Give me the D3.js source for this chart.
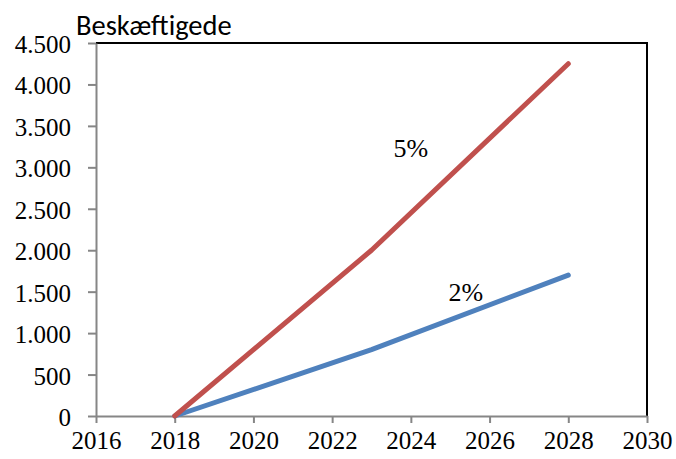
<!DOCTYPE html>
<html>
<head>
<meta charset="utf-8">
<script src="https://cdn.jsdelivr.net/npm/d3@7"></script>
<style>
  html, body { margin: 0; padding: 0; background: #fff; }
  svg { display: block; }
  #chart .serif { font-family: "Liberation Serif", "Times New Roman", serif; }
  #chart .sans { font-family: Carlito, Calibri, sans-serif; }
</style>
</head>
<body>
<svg id="chart" width="676" height="459">
  <g class="serif" id="plot"></g>
  <text class="sans" id="title"></text>
</svg>
<script>
// Employment growth scenarios (number employed)
const years = [2018, 2023, 2028];
const scenario5 = [0, 2000, 4250];
const scenario2 = [0, 800, 1700];
const seriesNames = ["5%", "2%"];
const seriesColors = ["#C0504D", "#4F81BD"];
const labelPos = [[2024.0, 3230], [2025.4, 1500]];
const xTicks = [2016, 2018, 2020, 2022, 2024, 2026, 2028, 2030];
const yTicks = [0, 500, 1000, 1500, 2000, 2500, 3000, 3500, 4000, 4500];
const yTitle = "Beskæftigede";

const svg = d3.select("#plot");
const m = { left: 96, top: 43, right: 647, bottom: 416 };

const x = d3.scaleLinear().domain([2016, 2030]).range([m.left, m.right]);
const y = d3.scaleLinear().domain([0, 4500]).range([m.bottom, m.top]);

const da = d3.formatLocale({ decimal: ",", thousands: ".", grouping: [3], currency: ["", ""] });
const fmt = da.format(",");

// Frame: top and right in black
svg.append("path")
  .attr("d", `M${m.left},${m.top}H${m.right}V${m.bottom}`)
  .attr("fill", "none").attr("stroke", "#000").attr("stroke-width", 2);

// Axes
const yAxis = svg.append("g")
  .attr("transform", `translate(${m.left},0)`)
  .call(d3.axisLeft(y).tickValues(yTicks).tickFormat(fmt).tickSize(8).tickPadding(17).tickSizeOuter(0));
const xAxis = svg.append("g")
  .attr("transform", `translate(0,${m.bottom})`)
  .call(d3.axisBottom(x).tickValues(xTicks).tickFormat(d3.format("d")).tickSize(7).tickPadding(8).tickSizeOuter(0));

[yAxis, xAxis].forEach(g => {
  g.attr("font-family", null).attr("font-size", 25);
  g.select(".domain").attr("stroke", "#868686").attr("stroke-width", 2);
  g.selectAll(".tick line").attr("stroke", "#868686").attr("stroke-width", 2);
  g.selectAll(".tick text").attr("fill", "#000");
});
yAxis.selectAll(".tick text").attr("dy", "0.38em");

// Series lines
const line = d3.line().x((d, i) => x(years[i])).y(d => y(d));
[scenario2, scenario5].forEach((vals, k) => {
  svg.append("path")
    .datum(vals)
    .attr("d", line)
    .attr("fill", "none")
    .attr("stroke", k === 0 ? seriesColors[1] : seriesColors[0])
    .attr("stroke-width", 5)
    .attr("stroke-linecap", "round")
    .attr("stroke-linejoin", "round");
});

// Series labels
seriesNames.forEach((name, i) => {
  svg.append("text")
    .attr("x", x(labelPos[i][0]))
    .attr("y", y(labelPos[i][1]))
    .attr("text-anchor", "middle")
    .attr("dy", "0.35em")
    .attr("font-size", 26)
    .text(name);
});

// Axis title
d3.select("#title")
  .attr("x", 76)
  .attr("y", 35)
  .attr("font-size", 28.5)
  .text(yTitle);
</script>
</body>
</html>
